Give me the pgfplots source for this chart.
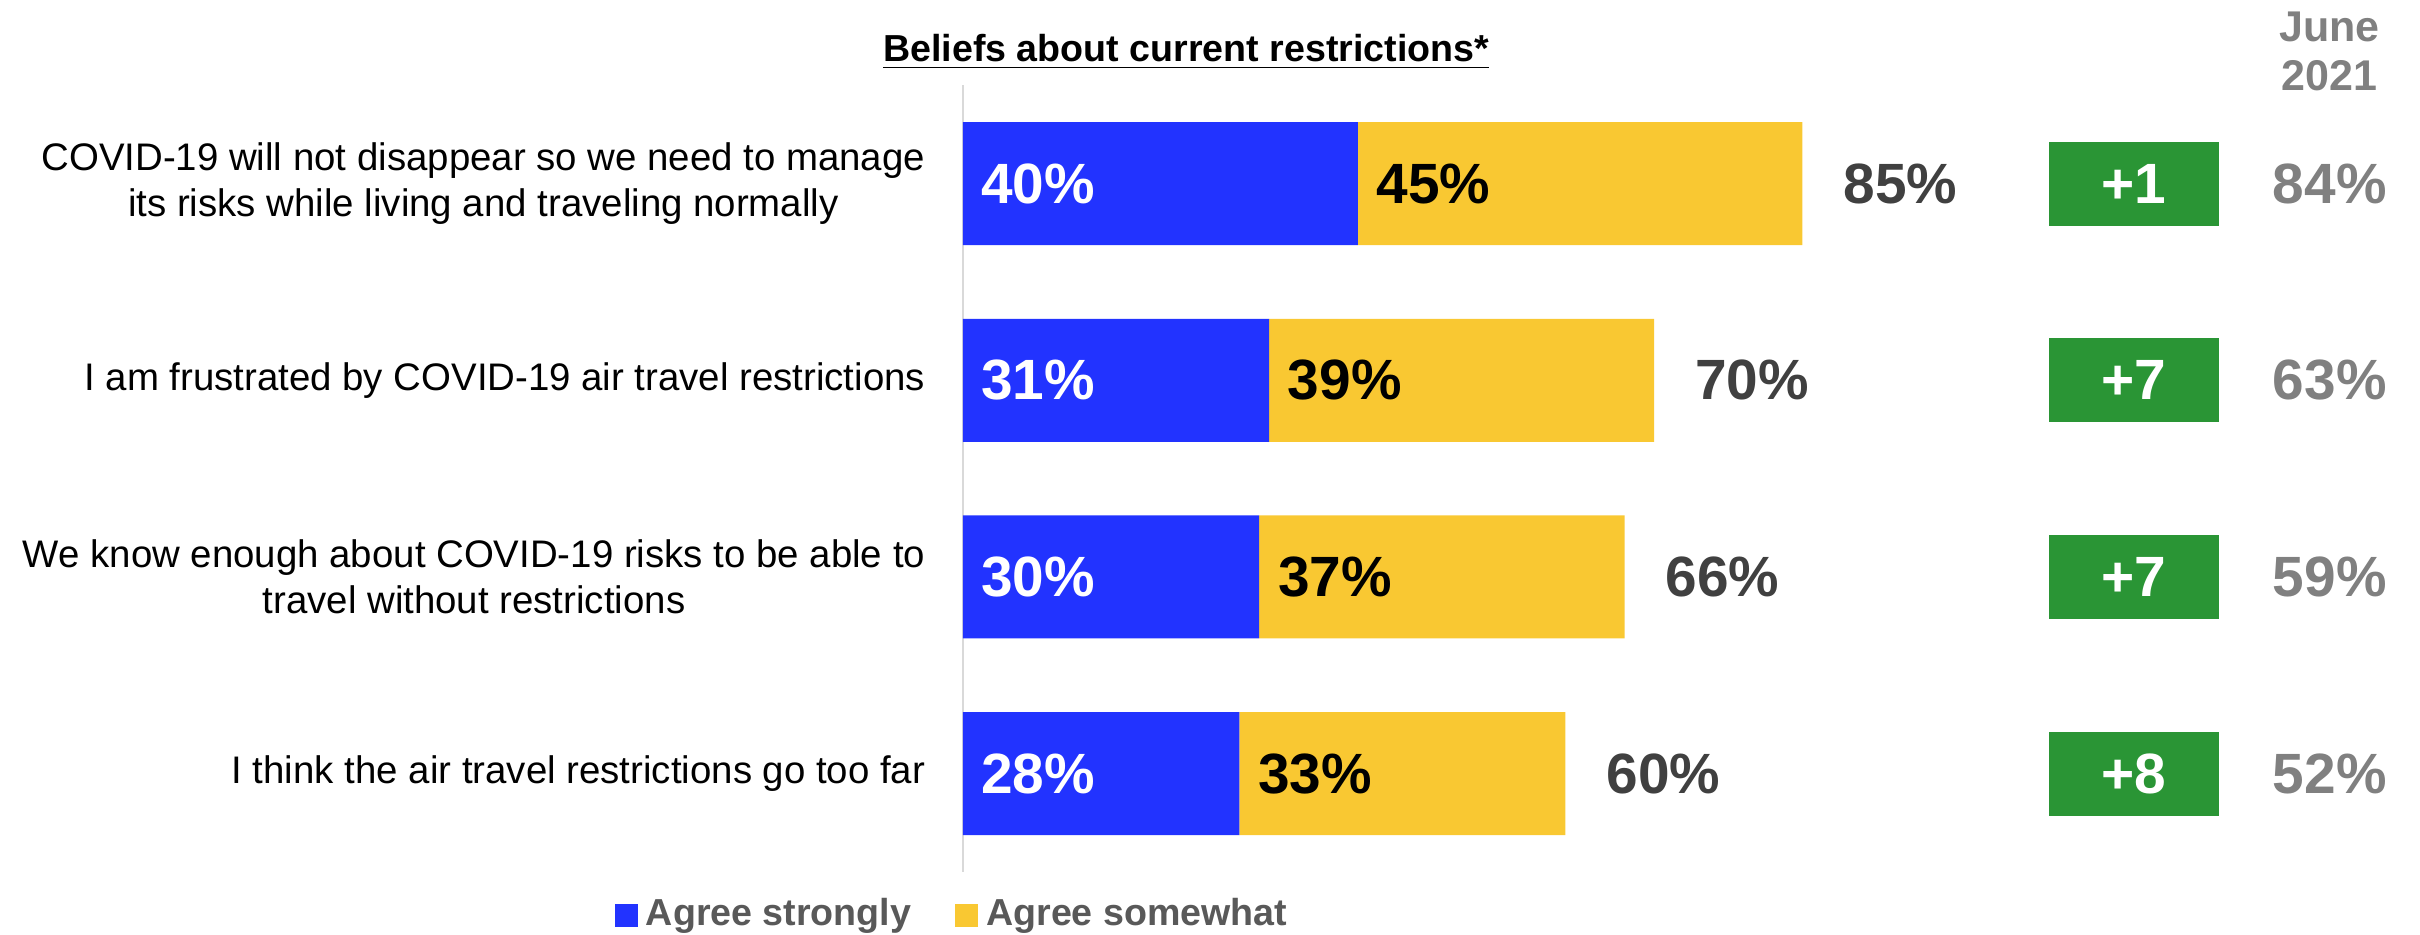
\documentclass[border=0pt]{standalone}
\usepackage{pgfplots}
\pgfplotsset{compat=1.18}
\usepackage{pgfplotstable}
\usepackage{fontspec}
\setmainfont{Liberation Sans}
\definecolor{cblue}{HTML}{2233FF}
\definecolor{cyellow}{HTML}{F9C832}
\definecolor{cgreen}{HTML}{2A9535}
\definecolor{cdark}{HTML}{404040}
\definecolor{cgray}{HTML}{808080}
\definecolor{clegend}{HTML}{595959}
\definecolor{caxis}{HTML}{D9D9D9}

\pgfplotstableread{
y strong somewhat total change june
0 40 45 85 1 84
1 31 39 70 7 63
2 30 37 66 7 59
3 28 33 60 8 52
}\data

\tikzset{big/.style={font=\fontsize{14.2}{16}\selectfont\bfseries, inner sep=0pt}}
\pgfplotsset{
  base/.style={
    x=2.46875pt, y=49.175pt, y dir=reverse,
    xmin=0, xmax=100, ymin=-0.5, ymax=3.5,
    clip=false, at={(0,0)}, anchor=south west,
    /pgf/number format/assume math mode=true,
  },
}

\begin{document}
\begin{tikzpicture}
\begin{axis}[base, name=main,
  xbar stacked, bar width=30.75pt,
  axis x line=none, axis y line*=left,
  axis line style={draw=caxis, line width=0.6pt, -},
  ytick={0,1,2,3},
  yticklabels={{COVID-19 will not disappear so we need to manage\\its risks while living and traveling normally},
               {I am frustrated by COVID-19 air travel restrictions},
               {We know enough about COVID-19 risks to be able to\\travel without restrictions},
               {I think the air travel restrictions go too far}},
  major tick length=0pt,
  yticklabel style={align=center, font=\fontsize{9.6}{11.5}\selectfont, inner sep=0pt, xshift=-9.25pt, text=black},
  legend style={at={(-0.008,-0.055)}, anchor=center, draw=none, legend columns=2,
    font=\fontsize{9.4}{11}\selectfont\bfseries, text=clegend,
    /tikz/every even column/.append style={column sep=9pt},
    nodes={inner xsep=2pt},
    inner sep=0pt},
  legend image code/.code={\fill[#1] (0pt,-2.875pt) rectangle (5.75pt,2.875pt);},
]
\addplot[fill=cblue, draw=none] table[x=strong, y=y] {\data};
\addplot[fill=cyellow, draw=none] table[x=somewhat, y=y] {\data};
\legend{Agree strongly, Agree somewhat}
\node[font=\fontsize{9.4}{11}\selectfont\bfseries, anchor=base] at (axis cs:22.6,-0.62) {\underline{Beliefs about current restrictions*}};
\node[font=\fontsize{10.75}{12.25}\selectfont\bfseries, text=cgray, align=center] at (axis cs:138.4,-0.671) {June\\2021};
\end{axis}

\begin{axis}[base, hide axis, point meta=explicit]
\addplot[draw=none, nodes near coords={\pgfmathprintnumber{\pgfplotspointmeta}\%},
  every node near coord/.append style={big, anchor=west, xshift=4.375pt, text=white}]
  table[x expr=0, y=y, meta=strong] {\data};
\addplot[draw=none, nodes near coords={\pgfmathprintnumber{\pgfplotspointmeta}\%},
  every node near coord/.append style={big, anchor=west, xshift=4.5pt, text=black}]
  table[x=strong, y=y, meta=somewhat] {\data};
\addplot[draw=none, nodes near coords={\pgfmathprintnumber{\pgfplotspointmeta}\%},
  every node near coord/.append style={big, anchor=center, xshift=24.5pt, text=cdark}]
  table[x expr=\thisrow{strong}+\thisrow{somewhat}, y=y, meta=total] {\data};
\addplot[draw=none, nodes near coords={\pgfmathprintnumber[print sign]{\pgfplotspointmeta}},
  every node near coord/.append style={big, anchor=center, fill=cgreen, text=white, minimum width=42.5pt, minimum height=21pt}]
  table[x expr=118.6, y=y, meta=change] {\data};
\addplot[draw=none, nodes near coords={\pgfmathprintnumber{\pgfplotspointmeta}\%},
  every node near coord/.append style={big, anchor=center, text=cgray}]
  table[x expr=138.4, y=y, meta=june] {\data};
\end{axis}
\pgfresetboundingbox
\path[use as bounding box] (-240.75pt,-15.5pt) rectangle (364.25pt,218pt);
\end{tikzpicture}
\end{document}
